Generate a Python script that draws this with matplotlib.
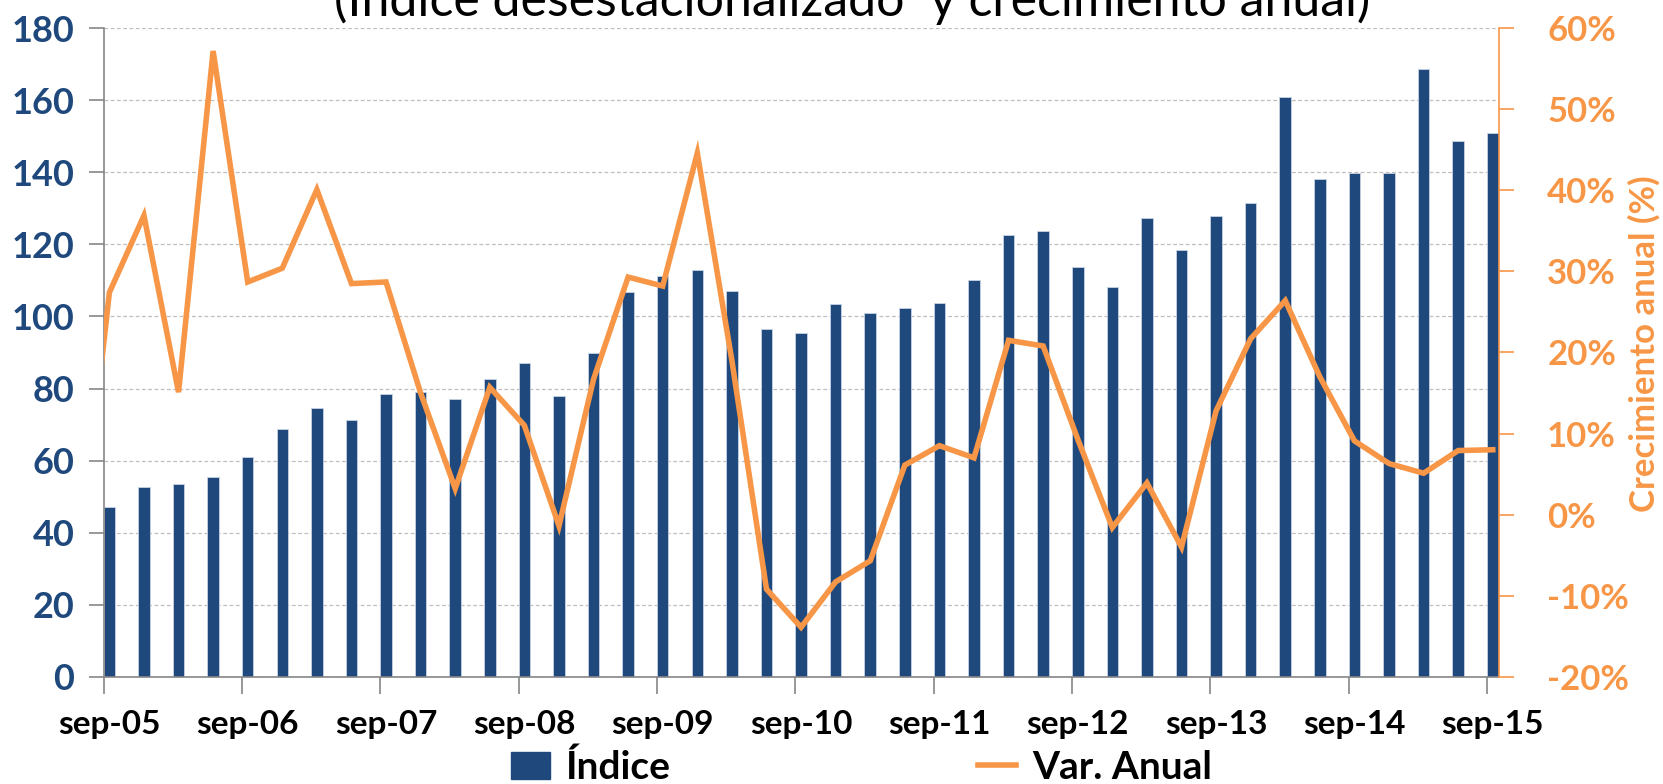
import numpy as np
import matplotlib.pyplot as plt
from matplotlib.lines import Line2D
from matplotlib.patches import Patch
from matplotlib.ticker import FuncFormatter

plt.rcParams['font.family'] = ['Lato', 'DejaVu Sans']

# =========================================================
# Data (quarterly, sep-05 .. sep-15)
# =========================================================
year_labels = ["sep-05", "sep-06", "sep-07", "sep-08", "sep-09", "sep-10",
               "sep-11", "sep-12", "sep-13", "sep-14", "sep-15"]

indice = [47.2, 52.7, 53.4, 55.4, 60.9, 68.8, 74.6, 71.2, 78.4, 79.0,
          77.0, 82.6, 87.0, 78.0, 89.8, 106.8, 111.2, 112.9, 107.2, 96.4,
          95.5, 103.4, 100.9, 102.3, 103.7, 110.2, 122.5, 123.6, 113.6, 108.2,
          127.3, 118.5, 128.0, 131.4, 160.9, 138.3, 139.7, 139.7, 168.6, 148.8,
          150.9]

# annual growth (%), first value is jun-05 (clipped at the left edge)
var_prev = -11.0
var_anual = [27.4, 36.9, 15.1, 57.2, 28.7, 30.4, 40.1, 28.5, 28.7, 15.0,
             3.2, 15.7, 11.0, -1.4, 16.7, 29.3, 28.2, 44.6, 19.0, -9.2,
             -13.9, -8.3, -5.7, 6.1, 8.5, 7.0, 21.5, 20.8, 9.3, -1.6,
             3.9, -4.0, 12.8, 21.7, 26.4, 17.0, 9.1, 6.3, 5.1, 7.9,
             8.0]

BLUE = "#1F497D"
ORANGE = "#F79646"
TXT_BLUE = "#1F497D"

# month offsets from sep-05, bars centred in their month
months = np.arange(len(indice)) * 3
x_bar = months + 0.5
x_line = np.concatenate([[-3 + 0.5], x_bar])
y_line = np.concatenate([[var_prev], var_anual])

# =========================================================
# Plot
# =========================================================
fig = plt.figure(figsize=(16.63, 7.84), dpi=100)
ax = fig.add_axes([0.0623, 0.1369, 0.8388, 0.8270])
ax2 = ax.twinx()

ax.bar(x_bar, indice, width=1.0, color=BLUE, edgecolor="#C8D3E3",
       linewidth=0.6, zorder=2)
ax2.plot(x_line, y_line, color=ORANGE, lw=4.0, solid_joinstyle="miter",
         zorder=3)

ax.set_xlim(0, 121)
ax.set_ylim(0, 180)
ax2.set_ylim(-20, 60)

ax.set_yticks(np.arange(0, 181, 20))
ax2.set_yticks(np.arange(-20, 61, 10))
ax2.yaxis.set_major_formatter(FuncFormatter(lambda v, p: f"{v:.0f}%"))

# tick marks at each year, labels centred in the month unit
year_pos = np.arange(len(year_labels)) * 12
ax.set_xticks(year_pos)
ax.set_xticklabels([])
ax.set_xticks(year_pos + 0.5, minor=True)
ax.set_xticklabels(year_labels, minor=True)
ax.tick_params(axis="x", which="major", length=12, width=1.2,
               color="#868686", direction="out")
ax.tick_params(axis="x", which="minor", length=0, pad=24,
               labelsize=24, labelcolor="black")
for t in ax.get_xticklabels(minor=True):
    t.set_fontweight("bold")

ax.tick_params(axis="y", length=11, width=1.2, color="#868686",
               labelsize=26, labelcolor=TXT_BLUE, pad=10)
for t in ax.get_yticklabels():
    t.set_fontweight("bold")
ax2.tick_params(axis="y", length=11, width=1.2, color=ORANGE,
                labelsize=25, labelcolor=ORANGE, pad=24)
for t in ax2.get_yticklabels():
    t.set_fontweight("bold")

ax.grid(axis="y", color="#BFBFBF", linestyle=(0, (3, 2)), linewidth=0.9,
        zorder=0)
ax.set_axisbelow(True)

ax.spines["top"].set_visible(False)
ax2.spines["top"].set_visible(False)
ax.spines["right"].set_visible(False)
ax.spines["left"].set_color("#868686")
ax.spines["bottom"].set_color("#868686")
ax.spines["left"].set_linewidth(1.2)
ax.spines["bottom"].set_linewidth(1.2)
ax2.spines["left"].set_visible(False)
ax2.spines["bottom"].set_visible(False)
ax2.spines["right"].set_color(ORANGE)
ax2.spines["right"].set_linewidth(1.2)

fig.text(0.9885, 0.561, "Crecimiento anual (%)", rotation=90,
         ha="center", va="center", color=ORANGE, fontsize=25,
         fontweight="bold")

fig.text(0.5125, 0.979, "(Índice desestacionalizado  y crecimiento anual)",
         ha="center", va="baseline", fontsize=36, color="black")

handles = [Patch(facecolor=BLUE, edgecolor=BLUE),
           Line2D([0], [0], color=ORANGE, lw=4.0)]
leg = fig.legend(handles, ["Índice", "Var. Anual"], loc="lower center",
                 bbox_to_anchor=(0.518, -0.046), ncol=2, frameon=False,
                 fontsize=28, columnspacing=7.9, handlelength=1.0,
                 handletextpad=0.4)
for t in leg.get_texts():
    t.set_fontweight("bold")

fig.savefig("out.png", dpi=100)
